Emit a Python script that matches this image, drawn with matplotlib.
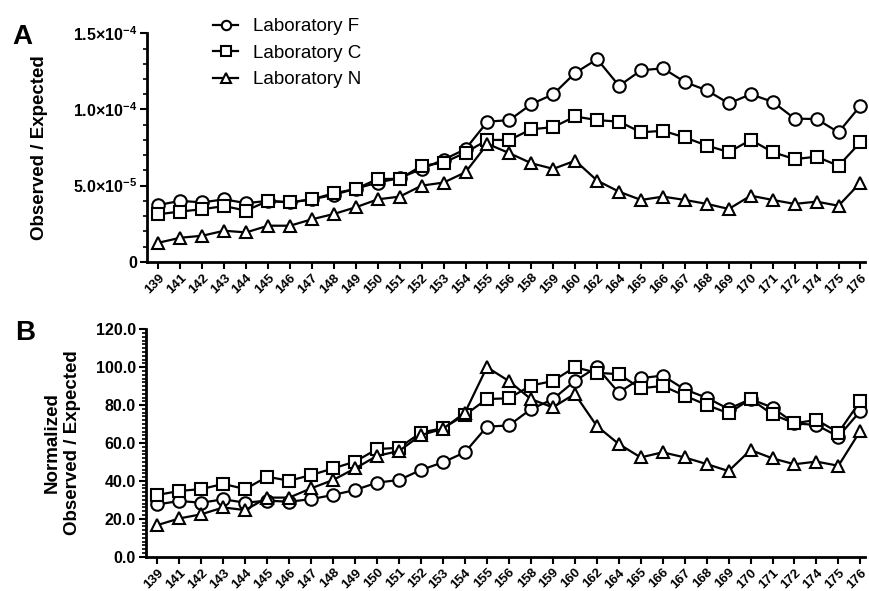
import matplotlib
matplotlib.use("Agg")
import matplotlib.pyplot as plt
from matplotlib.ticker import MultipleLocator, FixedLocator, FuncFormatter
import numpy as np

categories = ["139", "141", "142", "143", "144", "145", "146", "147", "148", "149",
              "150", "151", "152", "153", "154", "155", "156", "158", "159", "160",
              "162", "164", "165", "166", "167", "168", "169", "170", "171", "172",
              "174", "175", "176"]

# Panel A: observed / expected (x 1e-5)
lab_f_raw = [3.73, 4.0, 3.9, 4.1, 3.85, 4.0, 3.9, 4.1, 4.4, 4.8, 5.2, 5.5, 6.1, 6.7, 7.4,
             9.2, 9.3, 10.35, 11.0, 12.4, 13.3, 11.55, 12.57, 12.7, 11.8, 11.25, 10.4,
             11.0, 10.5, 9.4, 9.37, 8.5, 10.25]
lab_c_raw = [3.12, 3.3, 3.45, 3.66, 3.36, 4.0, 3.9, 4.1, 4.5, 4.78, 5.44, 5.44, 6.3, 6.5,
             7.17, 8.0, 8.0, 8.7, 8.84, 9.54, 9.3, 9.2, 8.5, 8.6, 8.16, 7.63, 7.2, 8.0,
             7.2, 6.74, 6.9, 6.3, 7.85]
lab_n_raw = [1.25, 1.58, 1.71, 2.04, 1.93, 2.37, 2.37, 2.79, 3.14, 3.58, 4.1, 4.28, 5.0,
             5.2, 5.88, 7.74, 7.13, 6.47, 6.1, 6.64, 5.33, 4.6, 4.06, 4.28, 4.06, 3.8,
             3.47, 4.34, 4.06, 3.8, 3.95, 3.68, 5.2]

# Panel B: normalized observed / expected
lab_f_norm = [27.6, 29.4, 28.5, 30.3, 28.5, 29.6, 29.0, 30.4, 32.6, 35.2, 39.1, 40.5, 45.8,
              49.8, 55.1, 68.6, 69.3, 77.8, 83.1, 92.7, 100.0, 86.6, 94.2, 95.6, 88.3,
              83.9, 78.0, 83.2, 78.7, 70.4, 69.5, 63.4, 76.9]
lab_c_norm = [32.6, 34.7, 35.7, 38.4, 35.7, 42.2, 40.1, 43.1, 46.6, 50.2, 56.8, 57.5, 65.5,
              67.8, 74.8, 83.2, 83.6, 90.3, 92.7, 100.0, 97.1, 96.3, 88.9, 90.1, 85.0,
              80.1, 75.7, 83.2, 75.1, 70.4, 72.2, 65.5, 82.2]
lab_n_norm = [16.7, 20.2, 22.4, 26.0, 24.6, 31.2, 31.2, 36.1, 40.5, 46.6, 53.2, 55.8, 64.2,
              67.5, 76.0, 100.0, 92.7, 83.2, 78.8, 85.9, 69.0, 59.5, 52.4, 55.1, 52.4,
              48.9, 45.2, 56.3, 51.9, 48.8, 50.2, 48.0, 66.5]

series_names = ["Laboratory F", "Laboratory C", "Laboratory N"]
markers = ["o", "s", "^"]

plt.rcParams['font.family'] = ['Liberation Sans', 'DejaVu Sans']
plt.rcParams['mathtext.fontset'] = 'custom'
plt.rcParams['mathtext.rm'] = 'Liberation Sans:bold'
plt.rcParams['mathtext.bf'] = 'Liberation Sans:bold'
plt.rcParams['mathtext.it'] = 'Liberation Sans:bold'

fig = plt.figure(figsize=(8.7, 5.91), dpi=100)
axA = fig.add_axes([0.1686, 0.557, 0.826, 0.3867])
axB = fig.add_axes([0.1675, 0.058, 0.827, 0.3848])

x = np.arange(len(categories))

def style_axis(ax):
    for s in ["top", "right"]:
        ax.spines[s].set_visible(False)
    for s in ["left", "bottom"]:
        ax.spines[s].set_linewidth(2.0)
    ax.set_xlim(-0.53, 32.22)
    ax.set_xticks(x)
    ax.set_xticklabels(categories, rotation=45, ha="right", rotation_mode="anchor",
                       fontsize=9.5, fontweight="bold")
    ax.tick_params(axis="x", length=5, width=1.5, pad=2)
    ax.tick_params(axis="y", which="major", length=5, width=1.5, labelsize=11.5, pad=2)
    ax.tick_params(axis="y", which="minor", length=3, width=1.2)
    for lab in ax.get_yticklabels():
        lab.set_fontweight("bold")

def plot_series(ax, data, ms):
    handles = []
    for vals, m, name in zip(data, markers, series_names):
        h, = ax.plot(x, vals, marker=m, color="black", markerfacecolor="white",
                     markeredgecolor="black", markersize=ms, markeredgewidth=1.5,
                     linewidth=1.6, label=name, clip_on=False)
        handles.append(h)
    return handles

# Panel A
scaled = [np.array(v) * 1e-5 for v in (lab_f_raw, lab_c_raw, lab_n_raw)]
handles = plot_series(axA, scaled, 9)
axA.set_ylim(0, 1.5e-4)
axA.yaxis.set_major_locator(FixedLocator([0, 5e-5, 1e-4, 1.5e-4]))
axA.yaxis.set_minor_locator(MultipleLocator(1e-5))
def fmtA(v, pos):
    if abs(v) < 1e-12:
        return "0"
    m = v / 1e-5 if v < 1e-4 else v / 1e-4
    e = -5 if v < 1e-4 else -4
    return r"$%.1f{\times}10^{%d}$" % (m, e)
axA.yaxis.set_major_formatter(FuncFormatter(fmtA))
style_axis(axA)
axA.set_ylabel("Observed / Expected", fontsize=13.5, fontweight="bold")
axA.yaxis.set_label_coords(-0.137, 0.5)

leg = axA.legend(handles=handles, loc="upper left", bbox_to_anchor=(0.226, 0.998),
                 bbox_transform=fig.transFigure, frameon=False, fontsize=13.5,
                 handlelength=1.3, handletextpad=0.8, labelspacing=0.5,
                 markerscale=0.75)

# Panel B
plot_series(axB, [lab_f_norm, lab_c_norm, lab_n_norm], 9)
axB.set_ylim(0, 120)
axB.yaxis.set_major_locator(MultipleLocator(20))
axB.yaxis.set_minor_locator(MultipleLocator(2))
axB.yaxis.set_major_formatter(FuncFormatter(lambda v, p: "%.1f" % v))
style_axis(axB)
axB.set_ylabel("Normalized\nObserved / Expected", fontsize=13.5, fontweight="bold",
               linespacing=1.25)
axB.yaxis.set_label_coords(-0.090, 0.5)

fig.text(0.014, 0.925, "A", fontsize=20, fontweight="bold")
fig.text(0.017, 0.424, "B", fontsize=20, fontweight="bold")

fig.savefig("out.png", dpi=100)
